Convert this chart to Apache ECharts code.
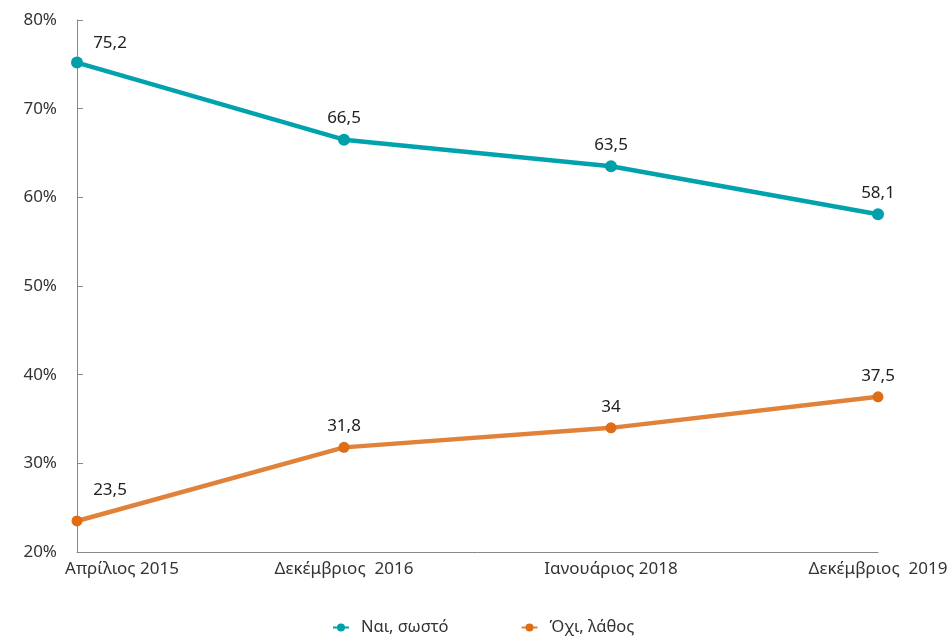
<!DOCTYPE html>
<html>
<head>
<meta charset="utf-8">
<script src="https://cdn.jsdelivr.net/npm/echarts@6/dist/echarts.min.js"></script>
<style>
  html, body { margin: 0; padding: 0; background: #fff; }
  #chart { width: 948px; height: 641px; }
</style>
</head>
<body>
<div id="chart"></div>
<script>
// Survey periods
const categories = ['Απρίλιος 2015', 'Δεκέμβριος  2016', 'Ιανουάριος 2018', 'Δεκέμβριος  2019'];
// Share of answers (%)
const yesValues = [75.2, 66.5, 63.5, 58.1];
const noValues = [23.5, 31.8, 34, 37.5];
const seriesNames = ['Ναι, σωστό', 'Όχι, λάθος'];
const yTicks = { min: 20, max: 80, interval: 10 };

const fontFamily = '"Noto Sans", sans-serif';
const teal = '#00A3AD';
const tealDot = '#00A0AA';
const orange = '#E0823A';
const orangeDot = '#E06C14';

function fmt(v) { return String(v).replace('.', ','); }

function buildData(values, firstOffset) {
  return values.map((v, i) => i === 0
    ? { value: v, label: { offset: firstOffset } }
    : v);
}

const chart = echarts.init(document.getElementById('chart'));
chart.setOption({
  animation: false,
  textStyle: { fontFamily },
  grid: { left: 77, right: 70, top: 20, bottom: 89, containLabel: false, outerBoundsMode: 'none' },
  legend: {
    bottom: 0,
    left: 327,
    itemGap: 72,
    itemWidth: 16,
    itemHeight: 10,
    textStyle: { fontSize: 16.5, color: '#333', fontFamily, padding: [0, 0, 0, 7] },
    data: seriesNames
  },
  xAxis: {
    type: 'category',
    data: categories,
    boundaryGap: false,
    axisLine: { lineStyle: { color: '#888', width: 1 } },
    axisTick: { show: false },
    axisLabel: {
      color: '#333', fontSize: 17, margin: 9, fontFamily,
      // first label sits to the right of the axis origin
      formatter: (val, idx) => idx === 0 ? '{first|' + val + '}' : val,
      rich: {
        first: { color: '#333', fontSize: 17, fontFamily, padding: [0, 0, 0, 90] }
      }
    }
  },
  yAxis: {
    type: 'value',
    min: yTicks.min,
    max: yTicks.max,
    interval: yTicks.interval,
    axisLine: { show: true, lineStyle: { color: '#888', width: 1 } },
    axisTick: { show: true, inside: true, length: 6, lineStyle: { color: '#888' } },
    splitLine: { show: false },
    axisLabel: { color: '#333', fontSize: 17, margin: 20, formatter: '{value}%', fontFamily }
  },
  series: [
    {
      name: seriesNames[0],
      type: 'line',
      data: buildData(yesValues, [33, 2]),
      color: tealDot,
      symbol: 'circle',
      symbolSize: 12,
      lineStyle: { width: 4.5, color: teal },
      itemStyle: { color: tealDot },
      label: {
        show: true, position: 'top', distance: 7,
        color: '#222', fontSize: 17, fontFamily,
        formatter: p => fmt(p.value)
      }
    },
    {
      name: seriesNames[1],
      type: 'line',
      data: buildData(noValues, [33, -10]),
      color: orangeDot,
      symbol: 'circle',
      symbolSize: 11,
      lineStyle: { width: 4.5, color: orange },
      itemStyle: { color: orangeDot },
      label: {
        show: true, position: 'top', distance: 7,
        color: '#222', fontSize: 17, fontFamily,
        formatter: p => fmt(p.value)
      }
    }
  ]
});
</script>
</body>
</html>
